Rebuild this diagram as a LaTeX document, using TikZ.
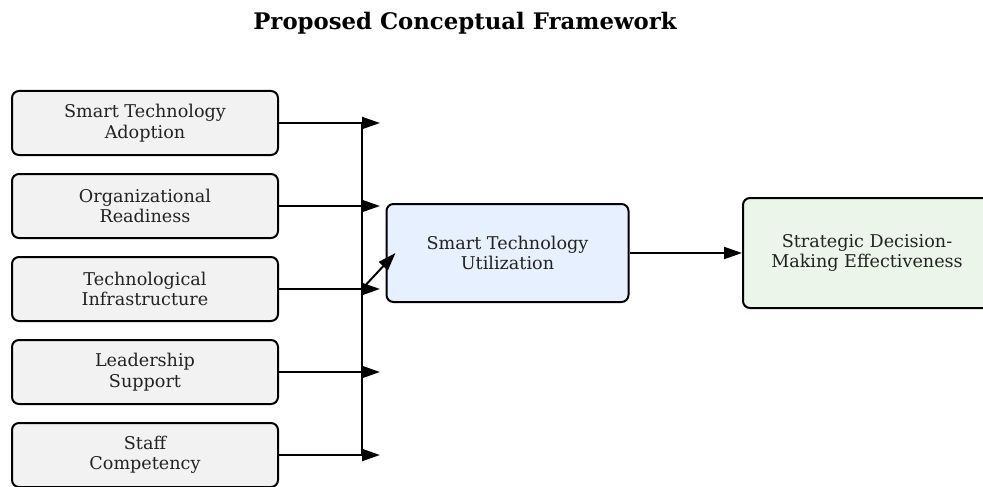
\documentclass[tikz,border=0pt]{standalone}
\usepackage{fontspec}
\setmainfont{DejaVu Serif}
\usetikzlibrary{arrows.meta,positioning,calc}
\definecolor{leftfill}{HTML}{F2F2F2}
\definecolor{midfill}{HTML}{E6F0FF}
\definecolor{rightfill}{HTML}{EBF5E9}
\definecolor{txt}{HTML}{222222}
\tikzset{
  factor/.style={draw=black, line width=2pt, rounded corners=7pt, fill=leftfill,
    minimum width=266pt, minimum height=64pt, align=center, inner sep=0pt,
    font=\fontsize{17.6}{20.5}\selectfont, text=txt},
  midbox/.style={factor, fill=midfill, minimum width=242pt, minimum height=98pt},
  outbox/.style={factor, fill=rightfill, minimum width=248pt, minimum height=110pt},
  conn/.style={line width=2pt, -{Triangle[length=18pt,width=12pt]}},
  trunk/.style={line width=2pt},
}
\begin{document}
\begin{tikzpicture}[x=1pt,y=-1pt]
\useasboundingbox (0,0) rectangle (983,487);
\node[font=\bfseries\fontsize{22.8}{26}\selectfont] (title) at (465,23) {Proposed Conceptual Framework};
\node[factor] (f1) at (145,123) {Smart Technology\\Adoption};
\node[factor] (f2) at (145,206) {Organizational\\Readiness};
\node[factor] (f3) at (145,289) {Technological\\Infrastructure};
\node[factor] (f4) at (145,372) {Leadership\\Support};
\node[factor] (f5) at (145,455) {Staff\\Competency};
\node[midbox] (mid) at (507.5,253) {Smart Technology\\Utilization};
\node[outbox] (out) at (867,253) {Strategic Decision-\\Making Effectiveness};
\coordinate (t1) at (380,123);
\coordinate (t2) at (380,206);
\coordinate (t3) at (380,289);
\coordinate (t4) at (380,372);
\coordinate (t5) at (380,455);
\coordinate (vtop) at (362,123);
\coordinate (vbot) at (362,455);
\coordinate (vmid) at (362,289);
\draw[trunk] (vtop) -- (vbot);
\draw[conn] (f1.east) -- (t1);
\draw[conn] (f2.east) -- (t2);
\draw[conn] (f3.east) -- (t3);
\draw[conn] (f4.east) -- (t4);
\draw[conn] (f5.east) -- (t5);
\draw[conn] (vmid) -- ([xshift=10pt]mid.west);
\draw[conn] (mid.east) -- (out.west);
\end{tikzpicture}
\end{document}
